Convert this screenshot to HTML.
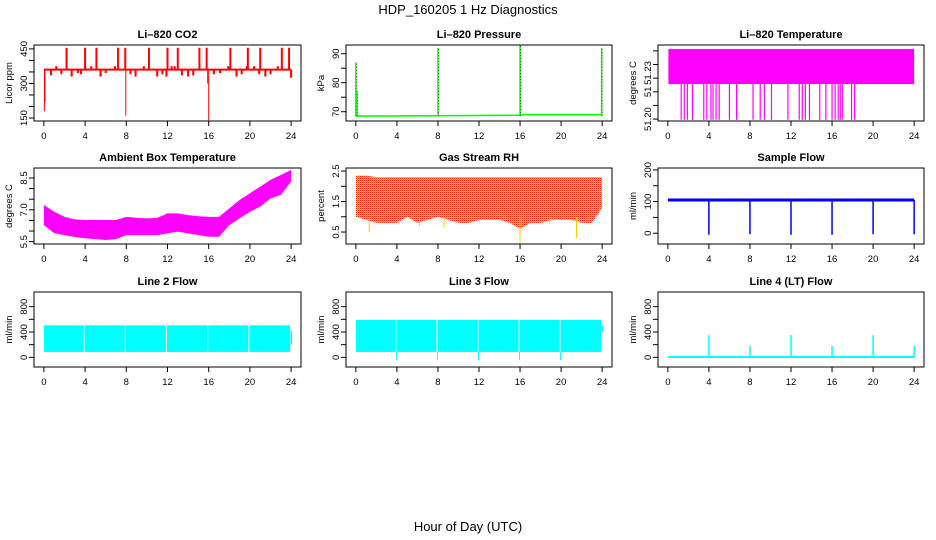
<!DOCTYPE html>
<html><head><meta charset="utf-8"><style>
html,body{margin:0;padding:0;background:#fff;}
svg{display:block;font-family:"Liberation Sans",sans-serif;}
</style></head><body>
<svg id="chart" width="936" height="540" viewBox="0 0 936 540" xmlns="http://www.w3.org/2000/svg">
<defs>
<pattern id="rhpat" width="2" height="2" patternUnits="userSpaceOnUse">
<rect width="2" height="2" fill="#ffdd00"/><rect width="1" height="1" fill="#ff2000"/><rect x="1" y="1" width="1" height="1" fill="#ff8800"/>
</pattern>
</defs>
<text x="468" y="14" text-anchor="middle" font-size="13">HDP_160205  1 Hz Diagnostics</text>
<text x="468" y="531" text-anchor="middle" font-size="13">Hour of Day (UTC)</text>
</svg>
<script>
// ---------- data ----------
const xTicks = [0,4,8,12,16,20,24];
// CO2
const co2BaseTimes = [0,24];
const co2BaseVals = [360,360];
const co2UpTimes = [2.2,4.0,5.1,7.2,7.9,10.2,12.0,13.0,15.1,15.8,18.1,19.8,21.0,23.1,23.8];
const co2UpVals = [455,455,455,455,455,455,455,455,455,455,455,455,455,455,455];
const co2SmallTimes = [0.6,1.1,1.6,2.6,3.2,3.5,3.9,4.5,5.4,5.9,6.8,8.3,8.8,9.6,10.9,11.4,11.8,12.3,12.6,13.3,13.9,14.4,16.4,17.0,17.8,18.6,19.1,19.6,20.3,20.8,21.4,21.9,22.6,23.9];
const co2SmallVals = [335,375,340,330,345,340,375,375,330,345,375,340,330,375,330,340,330,375,375,335,330,335,340,345,375,330,340,375,375,340,330,340,375,325];
const co2DownTimes = [0.05,0.1,7.95,16.0,15.9];
const co2DownVals = [180,220,160,140,300];
// Pressure
const presBaseTimes = [0,8,16,16.1,24];
const presBaseVals = [68.5,68.6,68.8,69.0,69.0];
const presSpikeTimes = [0.0,0.1,8.0,16.0,23.95];
const presSpikeVals = [87,77,92,93,92];
// Li-820 temperature
const ltTop = 51.2514, ltBottom = 51.2257;
const ltSpikeTimes = [1.3,1.6,1.9,2.4,3.5,3.8,4.2,4.4,4.7,5.0,6.0,6.7,8.3,9.0,9.4,10.1,11.7,12.8,13.1,13.4,13.8,14.8,15.4,16.0,16.3,16.6,16.8,17.0,17.9,18.2];
const ltSpikeVal = 51.1995;
// Ambient box temperature (hourly envelope)
const ambHours = [0,1,2,3,4,5,6,7,8,9,10,11,12,13,14,15,16,17,18,19,20,21,22,23,24];
const ambUpper = [7.23,6.91,6.67,6.55,6.52,6.52,6.52,6.52,6.67,6.62,6.60,6.62,6.83,6.83,6.75,6.70,6.67,6.67,7.07,7.46,7.78,8.09,8.41,8.64,8.88];
const ambLower = [6.28,5.90,5.81,5.72,5.66,5.62,5.58,5.62,5.81,5.81,5.81,5.81,5.89,5.97,5.89,5.81,5.73,5.73,6.28,6.60,6.91,7.15,7.54,7.70,8.33];
// Gas stream RH
const rhHours = [0,1,2,3,4,5,6,7,8,9,10,11,12,13,14,15,16,17,18,19,20,21,22,23,24];
const rhUpper = [2.35,2.35,2.3,2.3,2.3,2.3,2.3,2.3,2.3,2.3,2.3,2.3,2.3,2.3,2.3,2.3,2.3,2.3,2.3,2.3,2.3,2.3,2.3,2.3,2.3];
const rhLower = [1.0,0.9,0.8,0.8,0.8,1.0,0.8,0.9,1.0,0.9,0.8,0.8,0.9,0.9,0.9,0.8,0.6,0.8,0.8,0.9,0.9,0.9,0.8,0.8,1.3];
const rhSpikeTimes = [1.3,16.0,21.5,6.2,8.6,18.9];
const rhSpikeVals = [0.5,0.15,0.3,0.7,0.65,0.75];
// Sample flow
const sfBaseVal = 105;
const sfDropTimes = [4,8,12,16,20,24];
const sfDropVals = [-5,-3,-5,-5,-3,-3];
// Line 2 flow
const l2Top = 505, l2Bottom = 85;
const l2GapTimes = [3.9,7.9,11.9,15.9,19.9];
// Line 3 flow
const l3Top = 590, l3Bottom = 85;
const l3GapTimes = [3.9,7.9,11.9,15.9,19.9];
// Line 4 flow
const l4Base = 5;
const l4SpikeTimes = [4,8,12,16,20,24];
const l4SpikeVals = [350,180,350,180,350,180];

// ---------- layout ----------
const colX = [[34,301],[346,612],[658,924]];
const rowY = [[45,121],[168,244],[292,367]];
const NS = "http://www.w3.org/2000/svg";
const svg = document.getElementById('chart');
function mk(tag, attrs, parent){const e=document.createElementNS(NS,tag);for(const k in attrs)e.setAttribute(k,attrs[k]);(parent||svg).appendChild(e);return e;}

const panels = [
 {key:'co2',title:'Li\u2013820 CO2',ylab:'Licor ppm',c:0,r:0,ymin:137,ymax:467,ticks:[150,200,250,300,350,400,450],labels:[[150,'150'],[300,'300'],[450,'450']]},
 {key:'pres',title:'Li\u2013820 Pressure',ylab:'kPa',c:1,r:0,ymin:66.8,ymax:93,ticks:[70,75,80,85,90],labels:[[70,'70'],[80,'80'],[90,'90']]},
 {key:'lt',title:'Li\u2013820 Temperature',ylab:'degrees C',c:2,r:0,ymin:51.1986,ymax:51.2543,ticks:[51.20,51.21,51.22,51.23,51.24,51.25],labels:[[51.20,'51.20'],[51.22,'51'],[51.2338,'51.23']]},
 {key:'amb',title:'Ambient Box Temperature',ylab:'degrees C',c:0,r:1,ymin:5.39,ymax:8.97,ticks:[5.5,6,6.5,7,7.5,8,8.5],labels:[[5.5,'5.5'],[7,'7.0'],[8.5,'8.5']]},
 {key:'rh',title:'Gas Stream RH',ylab:'percent',c:1,r:1,ymin:0.107,ymax:2.6,ticks:[0.5,1,1.5,2,2.5],labels:[[0.5,'0.5'],[1.5,'1.5'],[2.5,'2.5']]},
 {key:'sf',title:'Sample Flow',ylab:'ml/min',c:2,r:1,ymin:-34,ymax:206,ticks:[0,50,100,150,200],labels:[[0,'0'],[100,'100'],[200,'200']]},
 {key:'l2',title:'Line 2 Flow',ylab:'ml/min',c:0,r:2,ymin:-153,ymax:1032,ticks:[0,200,400,600,800],labels:[[0,'0'],[400,'400'],[800,'800']]},
 {key:'l3',title:'Line 3 Flow',ylab:'ml/min',c:1,r:2,ymin:-153,ymax:1032,ticks:[0,200,400,600,800],labels:[[0,'0'],[400,'400'],[800,'800']]},
 {key:'l4',title:'Line 4 (LT) Flow',ylab:'ml/min',c:2,r:2,ymin:-153,ymax:1032,ticks:[0,200,400,600,800],labels:[[0,'0'],[400,'400'],[800,'800']]}
];
const FS = 9.5;

panels.forEach(p=>{
 const [x0,x1]=colX[p.c],[y0,y1]=rowY[p.r];
 const X=t=>x0+(t+0.96)/25.92*(x1-x0);
 const Y=v=>y1-(v-p.ymin)/(p.ymax-p.ymin)*(y1-y0);
 const g=mk('g',{});
 
 
 const clipId='clip-'+p.key;
 const cp=mk('clipPath',{id:clipId},g);mk('rect',{x:x0,y:y0,width:x1-x0,height:y1-y0},cp);
 const d=mk('g',{'clip-path':'url(#'+clipId+')'},g);
 
 
 const vline=(t,a,b,col,w)=>mk('line',{x1:X(t),x2:X(t),y1:Y(a),y2:Y(b),stroke:col,'stroke-width':w||1},d);
 const poly=(xs,up,lo,fill)=>{let pts=xs.map((t,i)=>X(t)+','+Y(up[i]));for(let i=xs.length-1;i>=0;i--)pts.push(X(xs[i])+','+Y(lo[i]));return mk('polygon',{points:pts.join(' '),fill:fill},d);};
 const rc=(ta,tb,a,b,fill)=>mk('rect',{x:X(ta),y:Y(b),width:X(tb)-X(ta),height:Y(a)-Y(b),fill:fill},d);
 if(p.key==='co2'){
  mk('line',{x1:X(co2BaseTimes[0]),x2:X(co2BaseTimes[1]),y1:Y(co2BaseVals[0]),y2:Y(co2BaseVals[1]),stroke:'#ff0000','stroke-width':2},d);
  co2UpTimes.forEach((t,i)=>{vline(t,360,co2UpVals[i],'#ff0000',2);});
  co2SmallTimes.forEach((t,i)=>{rc(t,t+0.2,Math.min(360,co2SmallVals[i]),Math.max(360,co2SmallVals[i]),'#ff0000');});
  co2DownTimes.forEach((t,i)=>vline(t,360,co2DownVals[i],'#ff0000',1));
 }
 if(p.key==='pres'){
  const pts=presBaseTimes.map((t,i)=>X(t)+','+Y(presBaseVals[i])).join(' ');
  mk('polyline',{points:pts,fill:'none',stroke:'#00ff00','stroke-width':1.5},d);
  presSpikeTimes.forEach((t,i)=>{vline(t,68.5,presSpikeVals[i],'#00ff00',1.5);mk('line',{x1:X(t)+0.5,x2:X(t)+0.5,y1:Y(68.5),y2:Y(presSpikeVals[i]),stroke:'#000','stroke-width':0.6,'stroke-dasharray':'1 2'},d);});
 }
 if(p.key==='lt'){
  rc(0.05,24,ltBottom,ltTop,'#ff00ff');
  ltSpikeTimes.forEach(t=>vline(t,ltBottom,ltSpikeVal,'#ff00ff',1.2));
 }
 if(p.key==='amb'){
  poly(ambHours,ambUpper,ambLower,'#ff00ff');
 }
 if(p.key==='rh'){
  poly(rhHours,rhUpper,rhLower,'url(#rhpat)');
  rhSpikeTimes.forEach((t,i)=>vline(t,1.0,rhSpikeVals[i],'#ffcc00',1));
 }
 if(p.key==='sf'){
  mk('line',{x1:X(0),x2:X(24),y1:Y(sfBaseVal),y2:Y(sfBaseVal),stroke:'#0000ff','stroke-width':3},d);
  sfDropTimes.forEach((t,i)=>vline(t,sfBaseVal,sfDropVals[i],'#0000ff',1.5));
 }
 if(p.key==='l2'){
  rc(0,23.9,l2Bottom,l2Top,'#00ffff');
  l2GapTimes.forEach(t=>vline(t,l2Bottom,l2Top,'#ffffff',1));
  rc(23.95,24.1,200,420,'#00ffff');
 }
 if(p.key==='l3'){
  rc(0,23.9,l3Bottom,l3Top,'#00ffff');
  l3GapTimes.forEach(t=>{vline(t,l3Bottom,l3Top,'#ffffff',1);vline(t+0.05,l3Bottom,-40,'#00ffff',1);});
  rc(23.95,24.1,400,500,'#00ffff');
 }
 if(p.key==='l4'){
  mk('line',{x1:X(0),x2:X(24),y1:Y(l4Base),y2:Y(l4Base),stroke:'#00ffff','stroke-width':2},d);
  l4SpikeTimes.forEach((t,i)=>vline(t,l4Base,l4SpikeVals[i],'#00ffff',1.5));
 }
 const box=mk('rect',{x:x0,y:y0,width:x1-x0,height:y1-y0,fill:'none',stroke:'#000','stroke-width':1},g);
 
 
 xTicks.forEach(t=>{
  mk('line',{x1:X(t),x2:X(t),y1:y1,y2:y1+5,stroke:'#000'},g);
  const tx=mk('text',{x:X(t),y:y1+18,'text-anchor':'middle','font-size':FS},g);tx.textContent=t;
  
  
 });
 p.ticks.forEach(v=>mk('line',{x1:x0-5,x2:x0,y1:Y(v),y2:Y(v),stroke:'#000'},g));
 p.labels.forEach(([v,s])=>{
  const tx=mk('text',{x:x0-7,y:Y(v),'text-anchor':'middle','font-size':FS,transform:'rotate(-90 '+(x0-7)+' '+Y(v)+')'},g);tx.textContent=s;
  
  
 });
 const yl=mk('text',{x:x0-22,y:(y0+y1)/2,'text-anchor':'middle','font-size':FS,transform:'rotate(-90 '+(x0-22)+' '+(y0+y1)/2+')'},g);yl.textContent=p.ylab;
 
 
 const ti=mk('text',{x:(x0+x1)/2,y:y0-7,'text-anchor':'middle','font-size':11,'font-weight':'bold'},g);ti.textContent=p.title;
 
 
});
</script>
</body></html>
